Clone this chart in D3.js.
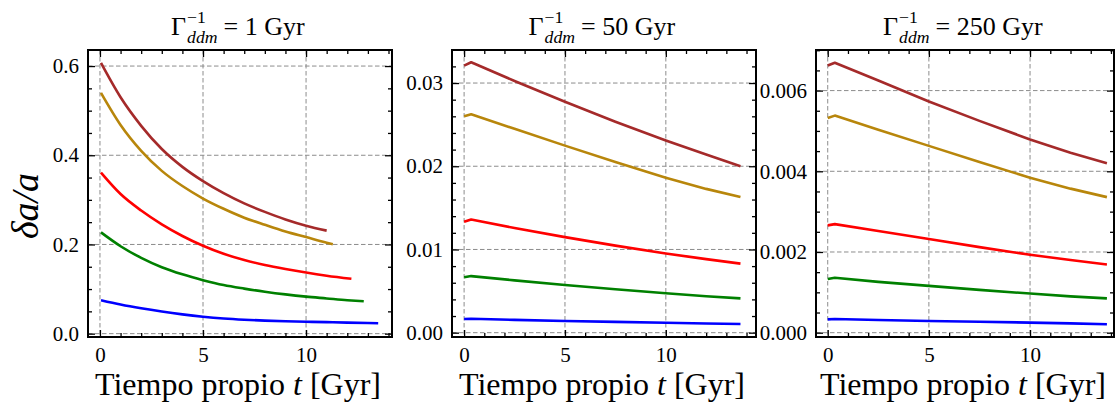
<!DOCTYPE html>
<html>
<head>
<meta charset="utf-8">
<script src="https://cdn.jsdelivr.net/npm/d3@7"></script>
<style>
  body { margin: 0; background: white; }
  svg text { font-family: "Liberation Serif", "Times New Roman", serif; fill: black; }
</style>
</head>
<body>
<div id="chart"></div>
<script>
// ---- data ----
const seriesColors = ['#a52a2a', '#b8860b', '#ff0000', '#008000', '#0000ff'];

// panel 1: Gamma^-1 = 1 Gyr
const p1T_brown = [0.05, 1, 2, 3, 4, 5, 6, 7, 8, 9, 10, 11];
const p1_brown  = [0.607, 0.530, 0.466, 0.414, 0.374, 0.342, 0.315, 0.292, 0.273, 0.256, 0.242, 0.231];
const p1T_gold  = [0.05, 1, 2, 3, 4, 5, 6, 7, 8, 9, 10, 11, 11.3];
const p1_gold   = [0.540, 0.468, 0.410, 0.365, 0.331, 0.303, 0.280, 0.260, 0.244, 0.229, 0.2165, 0.204, 0.2005];
const p1T_red   = [0.05, 1, 2, 3, 4, 5, 6, 7, 8, 9, 10, 11, 12.2];
const p1_red    = [0.361, 0.313, 0.276, 0.245, 0.219, 0.197, 0.179, 0.165, 0.154, 0.145, 0.137, 0.130, 0.123];
const p1T_green = [0.05, 1, 2, 3, 4, 5, 6, 7, 8, 9, 10, 11, 12, 12.8];
const p1_green  = [0.227, 0.196, 0.170, 0.149, 0.133, 0.120, 0.109, 0.101, 0.094, 0.088, 0.083, 0.079, 0.075, 0.0725];
const p1T_blue  = [0.05, 1, 2, 3, 4, 5, 6, 7, 8, 9, 10, 11, 12, 13, 13.5];
const p1_blue   = [0.075, 0.0653, 0.0568, 0.0495, 0.0432, 0.0380, 0.0340, 0.0312, 0.0292, 0.0278, 0.0268, 0.0258, 0.0248, 0.0238, 0.0233];

// panel 2: Gamma^-1 = 50 Gyr
const p2T       = [0, 0.35, 2.5, 5, 7.5, 10, 12, 13.7];
const p2_brown  = [0.0321, 0.0325, 0.03025, 0.02775, 0.02535, 0.0231, 0.02141, 0.0200];
const p2_gold   = [0.0260, 0.02625, 0.0245, 0.02248, 0.0205, 0.01862, 0.01728, 0.0163];
const p2_red    = [0.01333, 0.0136, 0.01258, 0.01148, 0.01046, 0.00952, 0.00884, 0.0083];
const p2_green  = [0.00666, 0.0068, 0.00629, 0.00573, 0.00521, 0.00473, 0.00438, 0.00412];
const p2_blue   = [0.00165, 0.00167, 0.00154, 0.00141, 0.0013, 0.0012, 0.00111, 0.00104];

// panel 3: Gamma^-1 = 250 Gyr
const p3T       = [0, 0.35, 2.5, 5, 7.5, 10, 12, 13.8];
const p3_brown  = [0.00662, 0.00669, 0.00625, 0.00573, 0.00525, 0.00479, 0.00446, 0.0042];
const p3_gold   = [0.00532, 0.00538, 0.00503, 0.00463, 0.00423, 0.00384, 0.00357, 0.00336];
const p3_red    = [0.00266, 0.00269, 0.00252, 0.00232, 0.00212, 0.00193, 0.0018, 0.00169];
const p3_green  = [0.00133, 0.00136, 0.00126, 0.00116, 0.00106, 0.00097, 0.0009, 0.00085];
const p3_blue   = [0.00033, 0.00034, 0.000315, 0.00029, 0.00027, 0.00025, 0.00023, 0.00021];

const xTicks = [0, 5, 10];
const p1YTicks = [0, 0.2, 0.4, 0.6];
const p2YTicks = [0, 0.01, 0.02, 0.03];
const p3YTicks = [0, 0.002, 0.004, 0.006];
const titles = ['1 Gyr', '50 Gyr', '250 Gyr'];

const width = 1116, height = 403;
const svg = d3.select('#chart').append('svg')
    .attr('width', width).attr('height', height);

function pairs(ts, vs) { return ts.map((t, i) => [t, vs[i]]); }

const panels = [
  { left: 88, right: 392, xdom: [-0.58, 14.17], ydom: [-0.0075, 0.636], yticks: p1YTicks, minorStep: 0.05, fmt: d3.format('.1f'),
    curve: d3.curveMonotoneX,
    lines: [pairs(p1T_brown, p1_brown), pairs(p1T_gold, p1_gold), pairs(p1T_red, p1_red), pairs(p1T_green, p1_green), pairs(p1T_blue, p1_blue)] },
  { left: 452, right: 756, xdom: [-0.6, 14.47], ydom: [-0.00052, 0.03397], yticks: p2YTicks, minorStep: 0.002, fmt: d3.format('.2f'),
    curve: d3.curveLinear,
    lines: [pairs(p2T, p2_brown), pairs(p2T, p2_gold), pairs(p2T, p2_red), pairs(p2T, p2_green), pairs(p2T, p2_blue)] },
  { left: 816, right: 1114, xdom: [-0.58, 14.15], ydom: [-0.000107, 0.007006], yticks: p3YTicks, minorStep: 0.0005, fmt: d3.format('.3f'),
    curve: d3.curveLinear,
    lines: [pairs(p3T, p3_brown), pairs(p3T, p3_gold), pairs(p3T, p3_red), pairs(p3T, p3_green), pairs(p3T, p3_blue)] }
];
const plotTop = 50, plotBottom = 337;
const serif = '"Liberation Serif", "Times New Roman", serif';

panels.forEach((p, pi) => {
    const w = p.right - p.left, h = plotBottom - plotTop;
    const g = svg.append('g').attr('transform', `translate(${p.left},${plotTop})`);
    const x = d3.scaleLinear().domain(p.xdom).range([0, w]);
    const y = d3.scaleLinear().domain(p.ydom).range([h, 0]);

    // minor tick values
    const xMinor = d3.range(0, 15, 1).filter(v => v % 5 !== 0 && v <= p.xdom[1]);
    const yMinor = d3.range(0, p.ydom[1], p.minorStep)
        .filter(v => !p.yticks.some(t => Math.abs(t - v) < p.minorStep / 10));

    // dashed grid
    g.append('g').selectAll('line').data(xTicks).enter().append('line')
        .attr('x1', d => x(d)).attr('x2', d => x(d)).attr('y1', 0).attr('y2', h)
        .attr('stroke', '#8c8c8c').attr('stroke-width', 1).attr('stroke-dasharray', '4.5,2.5');
    g.append('g').selectAll('line').data(p.yticks).enter().append('line')
        .attr('x1', 0).attr('x2', w).attr('y1', d => y(d)).attr('y2', d => y(d))
        .attr('stroke', '#8c8c8c').attr('stroke-width', 1).attr('stroke-dasharray', '4.5,2.5');

    // curves
    const line = d3.line().x(d => x(d[0])).y(d => y(d[1])).curve(p.curve);
    g.append('g').selectAll('path').data(p.lines).enter().append('path')
        .attr('d', line)
        .attr('fill', 'none')
        .attr('stroke', (d, i) => seriesColors[i])
        .attr('stroke-width', 2.6)
        .attr('stroke-linejoin', 'round');

    // ticks, pointing inward on all four sides
    const tickStyle = sel => {
        sel.attr('font-family', serif);
        sel.select('.domain').remove();
        sel.selectAll('line').attr('stroke', 'black').attr('stroke-width', 1.3);
    };
    g.append('g').attr('transform', `translate(0,${h})`)
        .call(d3.axisBottom(x).tickValues(xTicks).tickSize(-7).tickPadding(10).tickFormat(d3.format('d')))
        .call(tickStyle)
        .selectAll('text').attr('font-size', 21);
    g.append('g').attr('transform', `translate(0,${h})`)
        .call(d3.axisBottom(x).tickValues(xMinor).tickSize(-4).tickFormat('')).call(tickStyle);
    g.append('g')
        .call(d3.axisTop(x).tickValues(xTicks).tickSize(-7).tickFormat('')).call(tickStyle);
    g.append('g')
        .call(d3.axisTop(x).tickValues(xMinor).tickSize(-4).tickFormat('')).call(tickStyle);
    g.append('g')
        .call(d3.axisLeft(y).tickValues(p.yticks).tickSize(-7).tickPadding(9).tickFormat(p.fmt))
        .call(tickStyle)
        .selectAll('text').attr('font-size', 21);
    g.append('g')
        .call(d3.axisLeft(y).tickValues(yMinor).tickSize(-4).tickFormat('')).call(tickStyle);
    g.append('g').attr('transform', `translate(${w},0)`)
        .call(d3.axisRight(y).tickValues(p.yticks).tickSize(-7).tickFormat('')).call(tickStyle);
    g.append('g').attr('transform', `translate(${w},0)`)
        .call(d3.axisRight(y).tickValues(yMinor).tickSize(-4).tickFormat('')).call(tickStyle);

    // frame
    g.append('rect').attr('width', w).attr('height', h)
        .attr('fill', 'none').attr('stroke', 'black').attr('stroke-width', 2);

    // x label
    const xl = svg.append('text')
        .attr('x', p.left + w / 2 - 2).attr('y', 395)
        .attr('text-anchor', 'middle').attr('font-size', 32);
    xl.append('tspan').text('Tiempo propio ');
    xl.append('tspan').attr('font-style', 'italic').text('t');
    xl.append('tspan').text(' [Gyr]');

    // title: Γ^{-1}_{ddm} = N Gyr, one text element, sub stacked under sup
    const F = 26, base = 35, s = 0.68 * F;
    const tt = svg.append('text').attr('y', base).attr('font-size', F);
    tt.append('tspan').text('Γ');
    const sup = tt.append('tspan').attr('dx', 1).attr('dy', -0.47 * F).attr('font-size', s).text('−1');
    const sub = tt.append('tspan').attr('dy', 0.77 * F).attr('font-size', s)
        .attr('font-style', 'italic').text('ddm');
    const rest = tt.append('tspan').attr('dy', -0.30 * F).text('= ' + titles[pi]);
    const supW = sup.node().getComputedTextLength();
    const subW = sub.node().getComputedTextLength();
    sub.attr('dx', -supW);
    rest.attr('dx', Math.max(0, supW - subW) + 6);
    const totalW = tt.node().getBBox().width;
    tt.attr('x', p.left + w / 2 - totalW / 2 - 2);
});

// y label
svg.append('text')
    .attr('transform', 'translate(38,206) rotate(-90)')
    .attr('text-anchor', 'middle')
    .attr('font-size', 38)
    .attr('font-style', 'italic')
    .text('δa/a');
</script>
</body>
</html>
